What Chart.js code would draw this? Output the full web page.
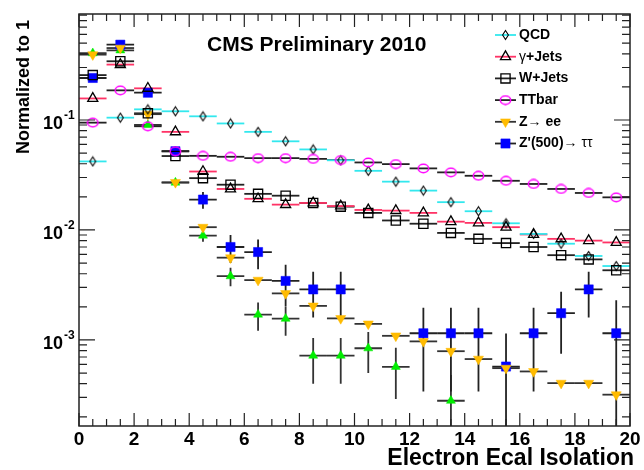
<!DOCTYPE html>
<html>
<head>
<meta charset="utf-8">
<script src="https://cdn.jsdelivr.net/npm/chart.js@4.4.0/dist/chart.umd.min.js"></script>
<style>
  html, body { margin: 0; padding: 0; background: #fff; }
  #wrap { width: 644px; height: 470px; position: relative; }
</style>
</head>
<body>
<div id="wrap"><canvas id="isoChart"></canvas></div>
<script>
const FONT = "'Liberation Sans', Arial, Helvetica, sans-serif";

// bin centres of the isolation histogram (1 GeV bins)
const binCenters = [0.5, 1.5, 2.5, 3.5, 4.5, 5.5, 6.5, 7.5, 8.5, 9.5,
  10.5, 11.5, 12.5, 13.5, 14.5, 15.5, 16.5, 17.5, 18.5, 19.5];

const qcd = [0.042, 0.105, 0.125, 0.12, 0.108, 0.093, 0.078, 0.064, 0.054, 0.043,
  0.0345, 0.0275, 0.0228, 0.0179, 0.0148, 0.0115, 0.0092, 0.0075, 0.0058, 0.0047];
const gammaJets = [0.157, 0.319, 0.194, 0.078, 0.034, 0.0236, 0.0192, 0.017, 0.0176, 0.0165,
  0.0152, 0.015, 0.0143, 0.0119, 0.0116, 0.0106, 0.0091, 0.0083, 0.008, 0.0077];
const wJets = [0.256, 0.342, 0.115, 0.047, 0.0296, 0.0258, 0.0213, 0.0205, 0.0176, 0.0163,
  0.0143, 0.0122, 0.0114, 0.0094, 0.0083, 0.0076, 0.007, 0.0059, 0.0054, 0.0043];
const ttbar = [0.0946, 0.186, 0.0877, 0.052, 0.0472, 0.0463, 0.045, 0.045, 0.0443, 0.0432,
  0.0411, 0.0397, 0.0363, 0.0334, 0.0311, 0.028, 0.0262, 0.0236, 0.0217, 0.0198];
const zee = [0.393, 0.451, 0.113, 0.0271, 0.0106, 0.0056, 0.0035, 0.00265, 0.00204, 0.00157,
  0.0014, 0.00109, 0.00097, 0.00079, 0.00067, 0.000554, 0.000517, 0.000405, 0.000405, 0.000318];
const zprime = [0.241, 0.484, 0.177, 0.052, 0.0189, 0.007, 0.0063, 0.00344, 0.00288, 0.00288,
  null, null, 0.00115, 0.00115, 0.00115, 0.000573, 0.00115, 0.00175, 0.00288, 0.00115];
const zprimeErr = [0.0118, 0.0167, 0.0101, 0.0055, 0.0033, 0.002, 0.0019, 0.0014, 0.00128, 0.00128,
  null, null, 0.00081, 0.00081, 0.00081, 0.000573, 0.00081, 0.001, 0.00128, 0.00115];
// green points (no legend entry in the original)
const greenPts = [0.405, 0.43, 0.09, 0.027, 0.0089, 0.0038, 0.0017, 0.00156, 0.00072, 0.00072,
  0.00084, 0.00057, null, 0.00028, null, null, null, null, null, null];
const greenErr = [0.0076, 0.0078, 0.0036, 0.0019, 0.0011, 0.00073, 0.00049, 0.00047, 0.00032, 0.00032,
  0.00034, 0.00028, null, 0.0002, null, null, null, null, null, null];

const xTicks = [0, 2, 4, 6, 8, 10, 12, 14, 16, 18, 20];
const yDecades = [0.1, 0.01, 0.001];
const yDecadeExp = ["-1", "-2", "-3"];
const yMin = 1.65e-4;
const yMax = 0.92;

function series(values) {
  return binCenters.map((x, i) => ({ x: x, y: values[i] }));
}

function markerCanvas(w, h, draw) {
  const c = document.createElement("canvas");
  c.width = w;
  c.height = h;
  draw(c.getContext("2d"));
  return c;
}

const diamond = markerCanvas(9, 12, (g) => {
  g.strokeStyle = "#000";
  g.lineWidth = 1.1;
  g.beginPath();
  g.moveTo(4.5, 1.5);
  g.lineTo(7.4, 6);
  g.lineTo(4.5, 10.5);
  g.lineTo(1.6, 6);
  g.closePath();
  g.stroke();
});

const ellipse = markerCanvas(13, 11, (g) => {
  g.strokeStyle = "#ff00ff";
  g.lineWidth = 1.5;
  g.beginPath();
  g.ellipse(6.5, 5.5, 5.2, 4.2, 0, 0, Math.PI * 2);
  g.stroke();
});

const none = "rgba(0,0,0,0)";

const datasets = [
  { label: "TTbar", data: series(ttbar), pointStyle: ellipse, pointRadius: 5,
    barColor: "#222" },
  { label: "W+Jets", data: series(wJets), pointStyle: "rect", pointRadius: 6.5,
    pointBackgroundColor: none, pointBorderColor: "#000", pointBorderWidth: 1.3, barColor: "#222" },
  { label: "γ+Jets", data: series(gammaJets), pointStyle: "triangle", pointRadius: 5.8,
    pointBackgroundColor: none, pointBorderColor: "#000", pointBorderWidth: 1.3, barColor: "#ff3366" },
  { label: "QCD", data: series(qcd), pointStyle: diamond, pointRadius: 5,
    barColor: "#33e8ee" },
  { label: "Z→ee", data: series(zee), pointStyle: "triangle", pointRotation: 180, pointRadius: 5.8,
    pointBackgroundColor: "#ffbb00", pointBorderColor: "#ffbb00", pointBorderWidth: 0.5, barColor: "#333" },
  { label: "green", data: series(greenPts), pointStyle: "triangle", pointRadius: 5.2,
    pointBackgroundColor: "#00ee00", pointBorderColor: "#00ee00", pointBorderWidth: 0.5,
    barColor: "#333", yErr: greenErr },
  { label: "Z'(500)→ττ", data: series(zprime), pointStyle: "rect", pointRadius: 6.5,
    pointBackgroundColor: "#0000ff", pointBorderColor: "#0000ff", pointBorderWidth: 0.5,
    barColor: "#222", yErr: zprimeErr },
];

// legend rows: dataset label + text pieces [text, bold]
const legendRows = [
  ["QCD", [["QCD", true]]],
  ["γ+Jets", [["γ", false], ["+Jets", true]]],
  ["W+Jets", [["W+Jets", true]]],
  ["TTbar", [["TTbar", true]]],
  ["Z→ee", [["Z", true], ["→", false], [" ee", true]]],
  ["Z'(500)→ττ", [["Z'(500)", true], ["→ ττ", false]]],
];

const errorBars = {
  id: "errorBars",
  beforeDatasetsDraw(chart) {
    const { ctx, chartArea: a, scales: { x, y } } = chart;
    ctx.save();
    ctx.beginPath();
    ctx.rect(a.left, a.top, a.right - a.left, a.bottom - a.top);
    ctx.clip();
    chart.data.datasets.forEach((ds) => {
      ctx.strokeStyle = ds.barColor;
      ctx.lineWidth = 1.8;
      ds.data.forEach((p, i) => {
        if (p.y == null) return;
        const py = y.getPixelForValue(p.y);
        ctx.beginPath();
        ctx.moveTo(x.getPixelForValue(p.x - 0.5), py);
        ctx.lineTo(x.getPixelForValue(p.x + 0.5), py);
        if (ds.yErr && ds.yErr[i]) {
          const px = x.getPixelForValue(p.x);
          const lo = p.y - ds.yErr[i];
          ctx.moveTo(px, lo > 0 ? y.getPixelForValue(lo) : a.bottom);
          ctx.lineTo(px, y.getPixelForValue(p.y + ds.yErr[i]));
        }
        ctx.stroke();
      });
    });
    ctx.restore();
  },
};

const frame = {
  id: "frame",
  afterDraw(chart) {
    const { ctx, chartArea: a, scales: { x, y } } = chart;
    ctx.save();
    ctx.strokeStyle = "#222";
    ctx.lineWidth = 1.5;
    ctx.strokeRect(a.left, a.top, a.right - a.left, a.bottom - a.top);

    // x ticks, bottom and top, pointing inwards
    ctx.lineWidth = 1.2;
    ctx.beginPath();
    for (let v = 0; v <= 20; v += 0.5) {
      const px = x.getPixelForValue(v);
      const len = v % 2 === 0 ? 13 : 7;
      ctx.moveTo(px, a.bottom);
      ctx.lineTo(px, a.bottom - len);
      ctx.moveTo(px, a.top);
      ctx.lineTo(px, a.top + len);
    }
    // y ticks, left and right
    for (let d = 1e-4; d < 1; d *= 10) {
      for (let m = 1; m <= 9; m++) {
        const v = m * d;
        if (v < yMin || v > yMax) continue;
        const py = y.getPixelForValue(v);
        const len = m === 1 ? 16 : 8;
        ctx.moveTo(a.left, py);
        ctx.lineTo(a.left + len, py);
        ctx.moveTo(a.right, py);
        ctx.lineTo(a.right - len, py);
      }
    }
    ctx.stroke();

    // y tick labels 10^n
    ctx.fillStyle = "#000";
    ctx.textBaseline = "middle";
    yDecades.forEach((v, i) => {
      const py = y.getPixelForValue(v);
      ctx.font = "bold 18px " + FONT;
      ctx.textAlign = "right";
      ctx.fillText("10", 63, py + 4);
      ctx.font = "bold 12px " + FONT;
      ctx.textAlign = "left";
      ctx.fillText(yDecadeExp[i], 64, py - 4);
    });

    // axis titles
    ctx.font = "bold 23px " + FONT;
    ctx.textAlign = "right";
    ctx.fillText("Electron Ecal Isolation", 634, 459);
    ctx.save();
    ctx.translate(24, 20);
    ctx.rotate(-Math.PI / 2);
    ctx.font = "bold 18px " + FONT;
    ctx.textAlign = "right";
    ctx.fillText("Normalized to 1", 0, 0);
    ctx.restore();

    // label inside the frame
    ctx.font = "bold 21px " + FONT;
    ctx.textAlign = "left";
    ctx.textBaseline = "alphabetic";
    ctx.fillText("CMS Preliminary 2010", 207, 51);

    // legend
    legendRows.forEach((row, r) => {
      const ds = chart.data.datasets.find((d) => d.label === row[0]);
      const ly = 35 + r * 21.7;
      ctx.strokeStyle = ds.barColor;
      ctx.lineWidth = 1.8;
      ctx.beginPath();
      ctx.moveTo(495, ly);
      ctx.lineTo(516, ly);
      ctx.stroke();
      ctx.fillStyle = ds.pointBackgroundColor || none;
      ctx.strokeStyle = ds.pointBorderColor || "#000";
      ctx.lineWidth = ds.pointBorderWidth || 1;
      Chart.helpers.drawPoint(ctx, {
        pointStyle: ds.pointStyle,
        radius: ds.pointRadius,
        rotation: ds.pointRotation || 0,
        borderWidth: ds.pointBorderWidth || 0,
      }, 505.5, ly);
      ctx.fillStyle = "#000";
      ctx.textBaseline = "middle";
      ctx.textAlign = "left";
      let tx = 519;
      row[1].forEach((part) => {
        ctx.font = (part[1] ? "bold 14px " : "14px ") + FONT;
        ctx.fillText(part[0], tx, ly);
        tx += ctx.measureText(part[0]).width;
      });
    });
    ctx.restore();
  },
};

new Chart(document.getElementById("isoChart"), {
  type: "scatter",
  data: { datasets: datasets },
  options: {
    responsive: true,
    maintainAspectRatio: false,
    animation: false,
    layout: { padding: { top: 14, right: 14, left: 0, bottom: 0 } },
    plugins: {
      legend: { display: false },
      tooltip: { enabled: false },
    },
    scales: {
      x: {
        type: "linear",
        min: 0,
        max: 20,
        afterFit(s) { s.height = 44; },
        afterBuildTicks(s) { s.ticks = xTicks.map((v) => ({ value: v })); },
        grid: { display: false, drawTicks: false },
        border: { display: false },
        ticks: {
          color: "#000",
          padding: 2,
          maxRotation: 0,
          autoSkip: false,
          font: { family: FONT, size: 19, weight: "bold" },
        },
      },
      y: {
        type: "logarithmic",
        min: yMin,
        max: yMax,
        afterFit(s) { s.width = 79; },
        grid: { display: false },
        border: { display: false },
        ticks: { display: false },
      },
    },
  },
  plugins: [errorBars, frame],
});
</script>
</body>
</html>
